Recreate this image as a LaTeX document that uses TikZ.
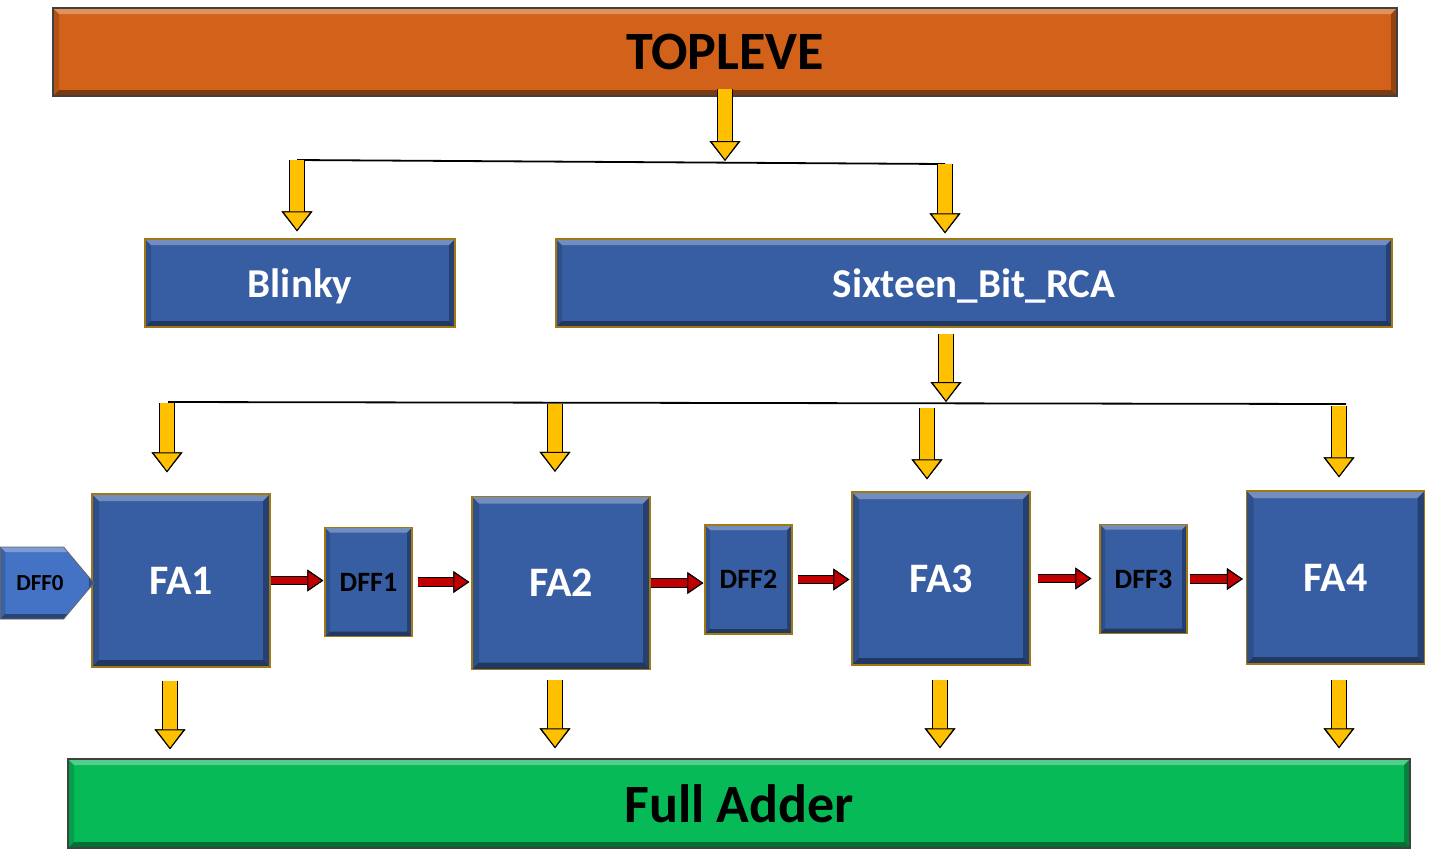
\documentclass[tikz,border=0pt]{standalone}
\usepackage{fontspec}
\setmainfont{Carlito}
\usetikzlibrary{arrows.meta,calc,shapes.symbols}

\definecolor{topor}{RGB}{210,98,25}
\definecolor{boxblue}{RGB}{55,94,163}
\definecolor{dffblue}{RGB}{68,114,196}
\definecolor{addgreen}{RGB}{7,186,88}
\definecolor{arryellow}{RGB}{255,192,0}
\definecolor{arrred}{RGB}{192,0,0}
\definecolor{rimgold}{RGB}{160,120,20}

\tikzset{
  bevel/.style={path picture={
    \coordinate (bvA) at (path picture bounding box.south west);
    \coordinate (bvC) at (path picture bounding box.north east);
    \coordinate (bvB) at (bvA -| bvC);
    \coordinate (bvD) at (bvA |- bvC);
    \fill[white,opacity=.3] (bvD) -- (bvC) -- ([shift={(-#1,-#1)}]bvC) -- ([shift={(#1,-#1)}]bvD) -- cycle;
    \fill[black,opacity=.15] (bvA) -- (bvD) -- ([shift={(#1,-#1)}]bvD) -- ([shift={(#1,#1)}]bvA) -- cycle;
    \fill[black,opacity=.4] (bvA) -- (bvB) -- ([shift={(-#1,#1)}]bvB) -- ([shift={(#1,#1)}]bvA) -- cycle;
    \fill[black,opacity=.3] (bvB) -- (bvC) -- ([shift={(-#1,-#1)}]bvC) -- ([shift={(-#1,#1)}]bvB) -- cycle;
  }},
  bevel/.default=3pt
}

\begin{document}
\begin{tikzpicture}[x=0.5pt,y=-0.5pt,
  widebox/.style={draw=black!75,line width=0.7pt,inner sep=0pt,bevel=3pt,
    minimum height=44pt,text=black,font=\bfseries\fontsize{27}{30}\selectfont},
  modbox/.style={draw=rimgold,line width=0.6pt,fill=boxblue,inner sep=0pt,bevel=3pt,
    minimum height=44pt,text depth=0pt,text=white,font=\bfseries\fontsize{20.5}{24}\selectfont},
  fabox/.style={draw=rimgold,line width=0.6pt,fill=boxblue,inner sep=0pt,bevel=3.5pt,
    minimum width=89pt,minimum height=86.5pt,text=white,font=\bfseries\fontsize{21}{24}\selectfont},
  dffbox/.style={draw=rimgold,line width=0.6pt,fill=boxblue,inner sep=0pt,bevel=2.5pt,
    minimum width=43.5pt,minimum height=54.5pt,text=black,font=\bfseries\fontsize{14}{16}\selectfont},
  yarrow/.style={draw=arryellow,line width=6.8pt,
    -{Triangle[width=15pt,length=10pt,fill=arryellow,color=black,line width=0.5pt]},
    preaction={draw=black,line width=7.8pt,-{Triangle[width=15pt,length=10pt]}}},
  rarrow/.style={draw=arrred,line width=3.6pt,
    -{Triangle[width=10.5pt,length=8pt,fill=arrred,color=black,line width=0.5pt]},
    preaction={draw=black,line width=4.6pt,-{Triangle[width=10.5pt,length=8pt]}}},
  busline/.style={draw=black,line width=0.9pt}]

\useasboundingbox (0,0) rectangle (1450,864);

\node[widebox,fill=topor,minimum width=672pt] (top) at (725,52) {TOPLEVE};
\node[modbox,minimum width=155pt] (blinky) at (300,283) {Blinky};
\node[modbox,minimum width=418pt] (rca) at (974,283) {Sixteen\_Bit\_RCA};

\node[fabox] (fa1) at (181,580.5) {FA1};
\node[fabox] (fa2) at (561,583) {FA2};
\node[fabox] (fa3) at (941,578.5) {FA3};
\node[fabox] (fa4) at (1335.5,577.5) {FA4};

\node[dffbox] (dff1) at (368.5,582) {DFF1};
\node[dffbox] (dff2) at (748.5,579.5) {DFF2};
\node[dffbox] (dff3) at (1143.5,579) {DFF3};
\node[signal,signal to=east,signal pointer angle=100,draw=black!60,line width=0.4pt,
  fill=dffblue,inner sep=0pt,bevel=2.5pt,minimum width=46pt,minimum height=36pt,
  font=\bfseries\fontsize{11.5}{13}\selectfont] (dff0) at (32,583) {\hspace*{8pt}DFF0};

\node[widebox,fill=addgreen,minimum width=671pt,minimum height=44.5pt] (fulladd) at (739,803.5) {Full Adder};

\coordinate (bus1l) at (297,160);
\coordinate (bus1r) at (945,164);
\coordinate (bus2l) at (168,402);
\coordinate (bus2r) at (1346,404);
\draw[busline] (bus1l) -- (bus1r);
\draw[busline] (bus2l) -- (bus2r);

\draw[yarrow,shorten >=1.5pt] ([yshift=4pt]top.south) -- (top.south |- bus1r);
\draw[yarrow,shorten >=3.5pt] (bus1l) -- (bus1l |- blinky.north);
\draw[yarrow,shorten >=2.5pt] (bus1r) -- (bus1r |- rca.north);
\coordinate (rcaout) at ([xshift=-14pt,yshift=-3pt]rca.south);
\draw[yarrow] (rcaout) -- (rcaout |- bus2l);

\draw[yarrow] ($(fa1.north |- bus2l)+(-14,1)$) -- ($(fa1.north)+(-14,-21)$);
\draw[yarrow] ($(fa2.north |- bus2l)+(-6,2)$) -- ($(fa2.north)+(-6,-24)$);
\draw[yarrow] ($(fa3.north |- bus2l)+(-14,6)$) -- ($(fa3.north)+(-14,-12)$);
\draw[yarrow] ($(fa4.north |- bus2l)+(3.5,4)$) -- ($(fa4.north)+(3.5,-13)$);

\draw[rarrow,shorten >=0.5pt] (fa1.east) -- (fa1.east -| dff1.west);
\draw[rarrow,shorten <=2.5pt,shorten >=1pt] (dff1.east) -- (dff1.east -| fa2.west);
\draw[rarrow,shorten >=0.5pt] (fa2.east) -- (fa2.east -| dff2.west);
\draw[rarrow,shorten <=2.5pt,shorten >=1pt] (dff2.east) -- (dff2.east -| fa3.west);
\draw[rarrow,shorten <=3.5pt,shorten >=4pt] (fa3.east) -- (fa3.east -| dff3.west);
\draw[rarrow,shorten <=1pt,shorten >=1.5pt] (dff3.east) -- (dff3.east -| fa4.west);

\draw[yarrow] ($(fa1.south)+(-11,13)$) -- ($(fa1.south |- fulladd.north)+(-11,-9)$);
\draw[yarrow] ($(fa2.south)+(-6,10)$) -- ($(fa2.south |- fulladd.north)+(-6,-10)$);
\draw[yarrow] ($(fa3.south)+(-1,14)$) -- ($(fa3.south |- fulladd.north)+(-1,-10)$);
\draw[yarrow] ($(fa4.south)+(3.5,15)$) -- ($(fa4.south |- fulladd.north)+(3.5,-10)$);

\end{tikzpicture}
\end{document}
